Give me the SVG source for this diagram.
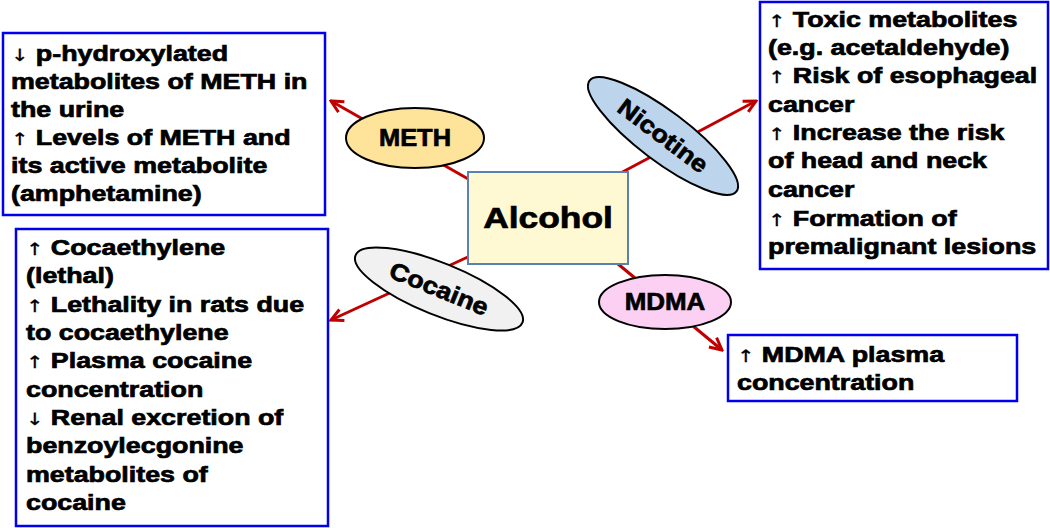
<svg xmlns="http://www.w3.org/2000/svg" width="1050" height="528" viewBox="0 0 1050 528">
<style>
.box{fill:#fff;stroke:#0000ee;stroke-width:2.5}
.t{font-family:"Liberation Sans",Arial,sans-serif;font-weight:bold;font-size:22px;fill:#000;stroke:#000;stroke-width:0.7}
.ar{font-family:"DejaVu Sans",sans-serif;font-weight:normal;font-size:17px;stroke-width:0.3}
.lbl{font-family:"Liberation Sans",Arial,sans-serif;font-weight:bold;font-size:24px;fill:#000;stroke:#000;stroke-width:0.7;text-anchor:middle}
.ell{stroke:#000;stroke-width:2}
.con{stroke:#c00000;stroke-width:3;fill:none}
</style>
<defs>
<marker id="ah" viewBox="0 0 16 16" refX="14" refY="8" markerWidth="16" markerHeight="16" orient="auto" markerUnits="userSpaceOnUse">
<path d="M2,2 L14,8 L2,14" fill="none" stroke="#c00000" stroke-width="3"/>
</marker>
</defs>
<g id="connectors">
<line class="con" x1="470" y1="180" x2="331" y2="101" marker-end="url(#ah)"/>
<line class="con" x1="615" y1="176" x2="756" y2="101" marker-end="url(#ah)"/>
<line class="con" x1="470" y1="256" x2="331" y2="320" marker-end="url(#ah)"/>
<line class="con" x1="618" y1="264" x2="722" y2="350" marker-end="url(#ah)"/>
</g>
<g id="alcohol">
<rect x="468" y="172" width="160" height="92" fill="#fef9d2" stroke="#5b80b2" stroke-width="2"/>
<text transform="translate(548,228) scale(1.18,1)" class="lbl" style="font-size:30px">Alcohol</text>
</g>
<g id="meth">
<ellipse class="ell" cx="415" cy="138" rx="69" ry="30" fill="#fee39b"/>
<text transform="translate(415,146) scale(1.06,1)" class="lbl">METH</text>
</g>
<g id="nicotine">
<ellipse class="ell" cx="663" cy="136" rx="92" ry="25" fill="#bcd5ed" transform="rotate(37 663 136)"/>
<text transform="translate(663,136) rotate(37) scale(1.12,1)" class="lbl" dy="8">Nicotine</text>
</g>
<g id="cocaine">
<ellipse class="ell" cx="439" cy="289" rx="90" ry="26" fill="#f1f1f1" transform="rotate(22 439 289)"/>
<text transform="translate(439,289) rotate(22) scale(1.12,1)" class="lbl" dy="8">Cocaine</text>
</g>
<g id="mdma">
<ellipse class="ell" cx="665" cy="302" rx="66" ry="27" fill="#fcd0f3"/>
<text transform="translate(665,310) scale(1.08,1)" class="lbl">MDMA</text>
</g>
<g id="meth-box">
<rect class="box" x="3" y="33" width="322" height="182"/>
<text class="t" transform="translate(11,0) scale(1.22,1)">
<tspan x="0" y="61"><tspan class="ar">↓</tspan> p-hydroxylated</tspan>
<tspan x="0" y="89">metabolites of METH in</tspan>
<tspan x="0" y="117">the urine</tspan>
<tspan x="0" y="145"><tspan class="ar">↑</tspan> Levels of METH and</tspan>
<tspan x="0" y="173">its active metabolite</tspan>
<tspan x="0" y="201">(amphetamine)</tspan>
</text>
</g>
<g id="nicotine-box">
<rect class="box" x="760" y="2" width="288" height="267"/>
<text class="t" transform="translate(768,0) scale(1.22,1)">
<tspan x="0" y="27"><tspan class="ar">↑</tspan> Toxic metabolites</tspan>
<tspan x="0" y="55">(e.g. acetaldehyde)</tspan>
<tspan x="0" y="83"><tspan class="ar">↑</tspan> Risk of esophageal</tspan>
<tspan x="0" y="112">cancer</tspan>
<tspan x="0" y="140"><tspan class="ar">↑</tspan> Increase the risk</tspan>
<tspan x="0" y="168">of  head and neck</tspan>
<tspan x="0" y="197">cancer</tspan>
<tspan x="0" y="226"><tspan class="ar">↑</tspan> Formation of</tspan>
<tspan x="0" y="254">premalignant lesions</tspan>
</text>
</g>
<g id="cocaine-box">
<rect class="box" x="16" y="229" width="312" height="297"/>
<text class="t" transform="translate(26,0) scale(1.22,1)">
<tspan x="0" y="255"><tspan class="ar">↑</tspan> Cocaethylene</tspan>
<tspan x="0" y="283">(lethal)</tspan>
<tspan x="0" y="312"><tspan class="ar">↑</tspan> Lethality in rats due</tspan>
<tspan x="0" y="340">to cocaethylene</tspan>
<tspan x="0" y="368"><tspan class="ar">↑</tspan> Plasma cocaine</tspan>
<tspan x="0" y="397">concentration</tspan>
<tspan x="0" y="425"><tspan class="ar">↓</tspan> Renal excretion of</tspan>
<tspan x="0" y="453">benzoylecgonine</tspan>
<tspan x="0" y="482">metabolites of</tspan>
<tspan x="0" y="510">cocaine</tspan>
</text>
</g>
<g id="mdma-box">
<rect class="box" x="728" y="335" width="289" height="66"/>
<text class="t" transform="translate(737,0) scale(1.22,1)">
<tspan x="0" y="362"><tspan class="ar">↑</tspan> MDMA plasma</tspan>
<tspan x="0" y="390">concentration</tspan>
</text>
</g>
</svg>
